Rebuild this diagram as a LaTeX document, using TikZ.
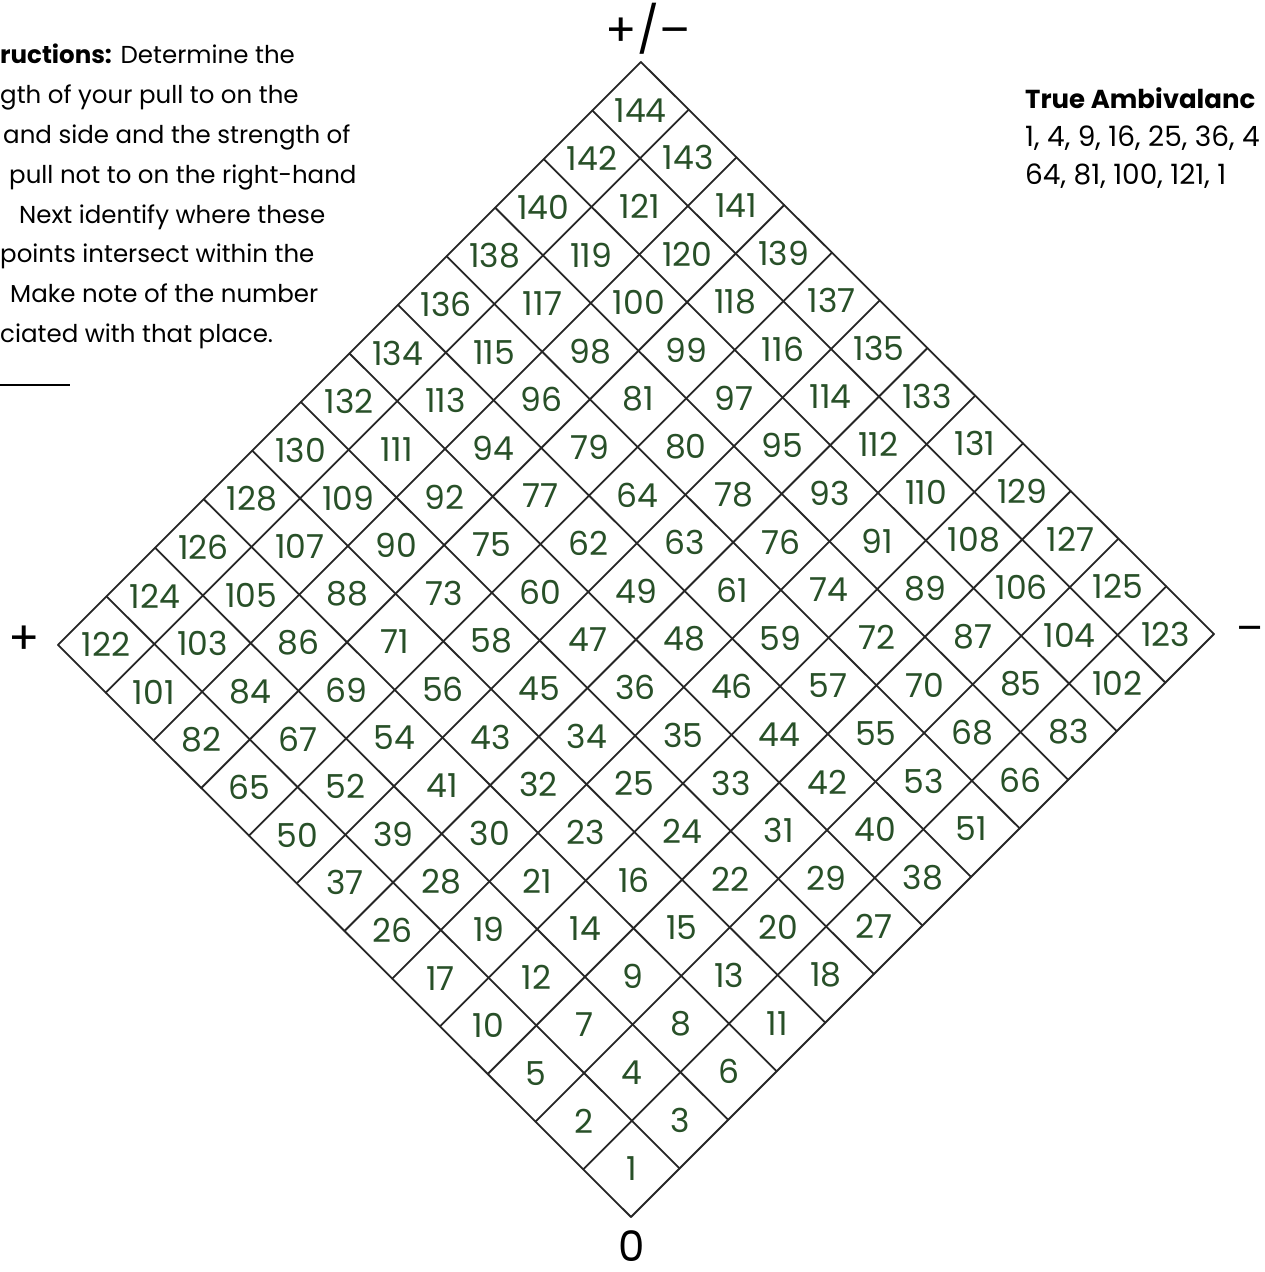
\documentclass[tikz,border=0pt]{standalone}
\usepackage{fontspec}
\setmainfont{Poppins}
\usetikzlibrary{positioning}
\definecolor{leafgreen}{RGB}{40,80,40}
\definecolor{gridgray}{RGB}{38,38,38}
\tikzset{
  cellnum/.style={text=leafgreen,font=\fontsize{33}{33}\selectfont,inner sep=0pt},
  gridline/.style={draw=gridgray,line width=1.8pt,line cap=round},
  pole/.style={font=\fontsize{46}{46}\selectfont,inner sep=0pt},
  noteline/.style={anchor=base west,inner sep=0pt,font=\fontsize{24.5}{24.5}\selectfont},
  keyline/.style={anchor=base west,inner sep=0pt,font=\fontsize{28}{28}\selectfont}
}

\begin{document}
\begin{tikzpicture}[x=1pt,y=-1pt]
  \useasboundingbox (0,0) rectangle (1264,1272);

  % the 12 x 12 diamond, numbered shell by shell
  \begin{scope}[shift={(631pt,-1217pt)},x={(-47.75pt,47.67pt)},y={(48.58pt,48.58pt)}]
    \foreach \k in {0,...,12}{
      \draw[gridline] (\k,0) -- (\k,12);
      \draw[gridline] (0,\k) -- (12,\k);
    }
    \foreach \i in {0,...,11}{
      \foreach \j in {0,...,11}{
        \pgfmathtruncatemacro\m{max(\i,\j)}
        \pgfmathtruncatemacro\n{\m*\m+(\i>\j)*(2*\j+1)+(\j>\i)*(2*\i+2)+(\i==\j)*(2*\m+1)}
        \node[cellnum] (cell-\i-\j) at (\i+0.5,\j+0.5) {\n};
      }
    }
  \end{scope}

  % poles
  \node[pole] (top) at (648,29) {+/\textendash};
  \node[pole] (plus) at (24.5,640) {+};
  \node[pole,font=\fontsize{40}{40}\selectfont] (minus) at (1250,634) {\textendash};
  \node[pole,font=\fontsize{42}{42}\selectfont] (zero) at (632,1246) {0};

  % instructions
  \node[noteline] (note1) at (0,63) {\textbf{ructions:} Determine the};
  \node[noteline] (note2) at (0,103) {gth of your pull to on the};
  \node[noteline] (note3) at (3,143) {and side and the strength of};
  \node[noteline] (note4) at (9,183) {pull not to on the right-hand};
  \node[noteline] (note5) at (19,223) {Next identify where these};
  \node[noteline] (note6) at (0,262) {points intersect within the};
  \node[noteline] (note7) at (10,302) {Make note of the number};
  \node[noteline] (note8) at (0,342) {ciated with that place.};
  \coordinate (rule-a) at (0,385);
  \coordinate (rule-b) at (70,385);
  \draw[line width=1.5pt] (rule-a) -- (rule-b);

  % key
  \node[keyline,font=\bfseries\fontsize{26}{26}\selectfont] (key-title) at (1025,108) {True Ambivalanc};
  \node[keyline] (key-row1) at (1025,146) {1, 4, 9, 16, 25, 36, 4};
  \node[keyline] (key-row2) at (1025,184) {64, 81, 100, 121, 1};
\end{tikzpicture}
\end{document}
